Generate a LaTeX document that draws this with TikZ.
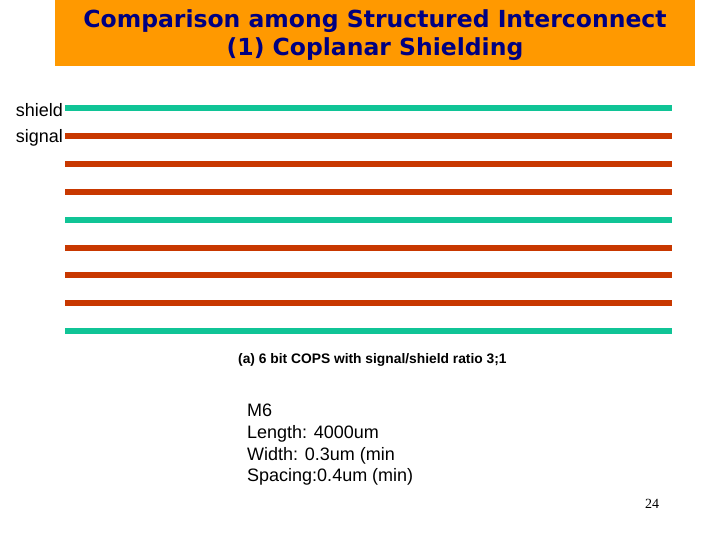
\documentclass[tikz,border=0pt]{standalone}
\usepackage{fontspec}
\setmainfont{Liberation Sans}
\newfontfamily\titlefont{DejaVu Sans}
\newfontfamily\pagefont{Liberation Serif}
\definecolor{titlebg}{RGB}{255,153,0}
\definecolor{titlefg}{RGB}{0,0,128}
\definecolor{shieldcol}{RGB}{16,196,150}
\definecolor{signalcol}{RGB}{200,56,0}
\tikzset{
  shieldwire/.style={line width=6.5pt, shieldcol},
  signalwire/.style={line width=6.5pt, signalcol},
  sidelabel/.style={anchor=east, inner sep=1pt, font=\fontsize{18}{20}\selectfont}
}

\begin{document}
\begin{tikzpicture}[x=1pt, y=-1pt]

    % page
    \useasboundingbox (0,0) rectangle (720,540);
    \fill[white] (0,0) rectangle (720,540);

    % title bar
    \fill[titlebg] (55,0) rectangle (695,66);
    \node[align=center, text=titlefg, font=\titlefont\bfseries\fontsize{23.5}{28}\selectfont] (title) at (375,35)
        {Comparison among Structured Interconnect\\(1) Coplanar Shielding};

    % wires
    \foreach \y/\kind in {108/shield, 136/signal, 164/signal, 192/signal, 220/shield,
                          248/signal, 275/signal, 303/signal, 331/shield}
        \draw[\kind wire] (65,\y) -- (672,\y);

    % legend labels
    \node[sidelabel] (shield) at (64,110) {shield};
    \node[sidelabel] (signal) at (64,138) {signal};

    % caption
    \node[anchor=west, inner sep=0pt, font=\bfseries\fontsize{13.8}{16}\selectfont] (caption) at (238,360)
        {(a) 6 bit COPS with signal/shield ratio 3;1};

    % wire data
    \node[anchor=north west, align=left, inner sep=0pt, font=\fontsize{18}{21.7}\selectfont] (data) at (247,404)
        {M6\\Length: 4000um\\Width: 0.3um (min\\Spacing:0.4um (min)};

    % page number
    \node[font=\pagefont\fontsize{14}{16}\selectfont] (pageno) at (652,504) {24};

\end{tikzpicture}
\end{document}
